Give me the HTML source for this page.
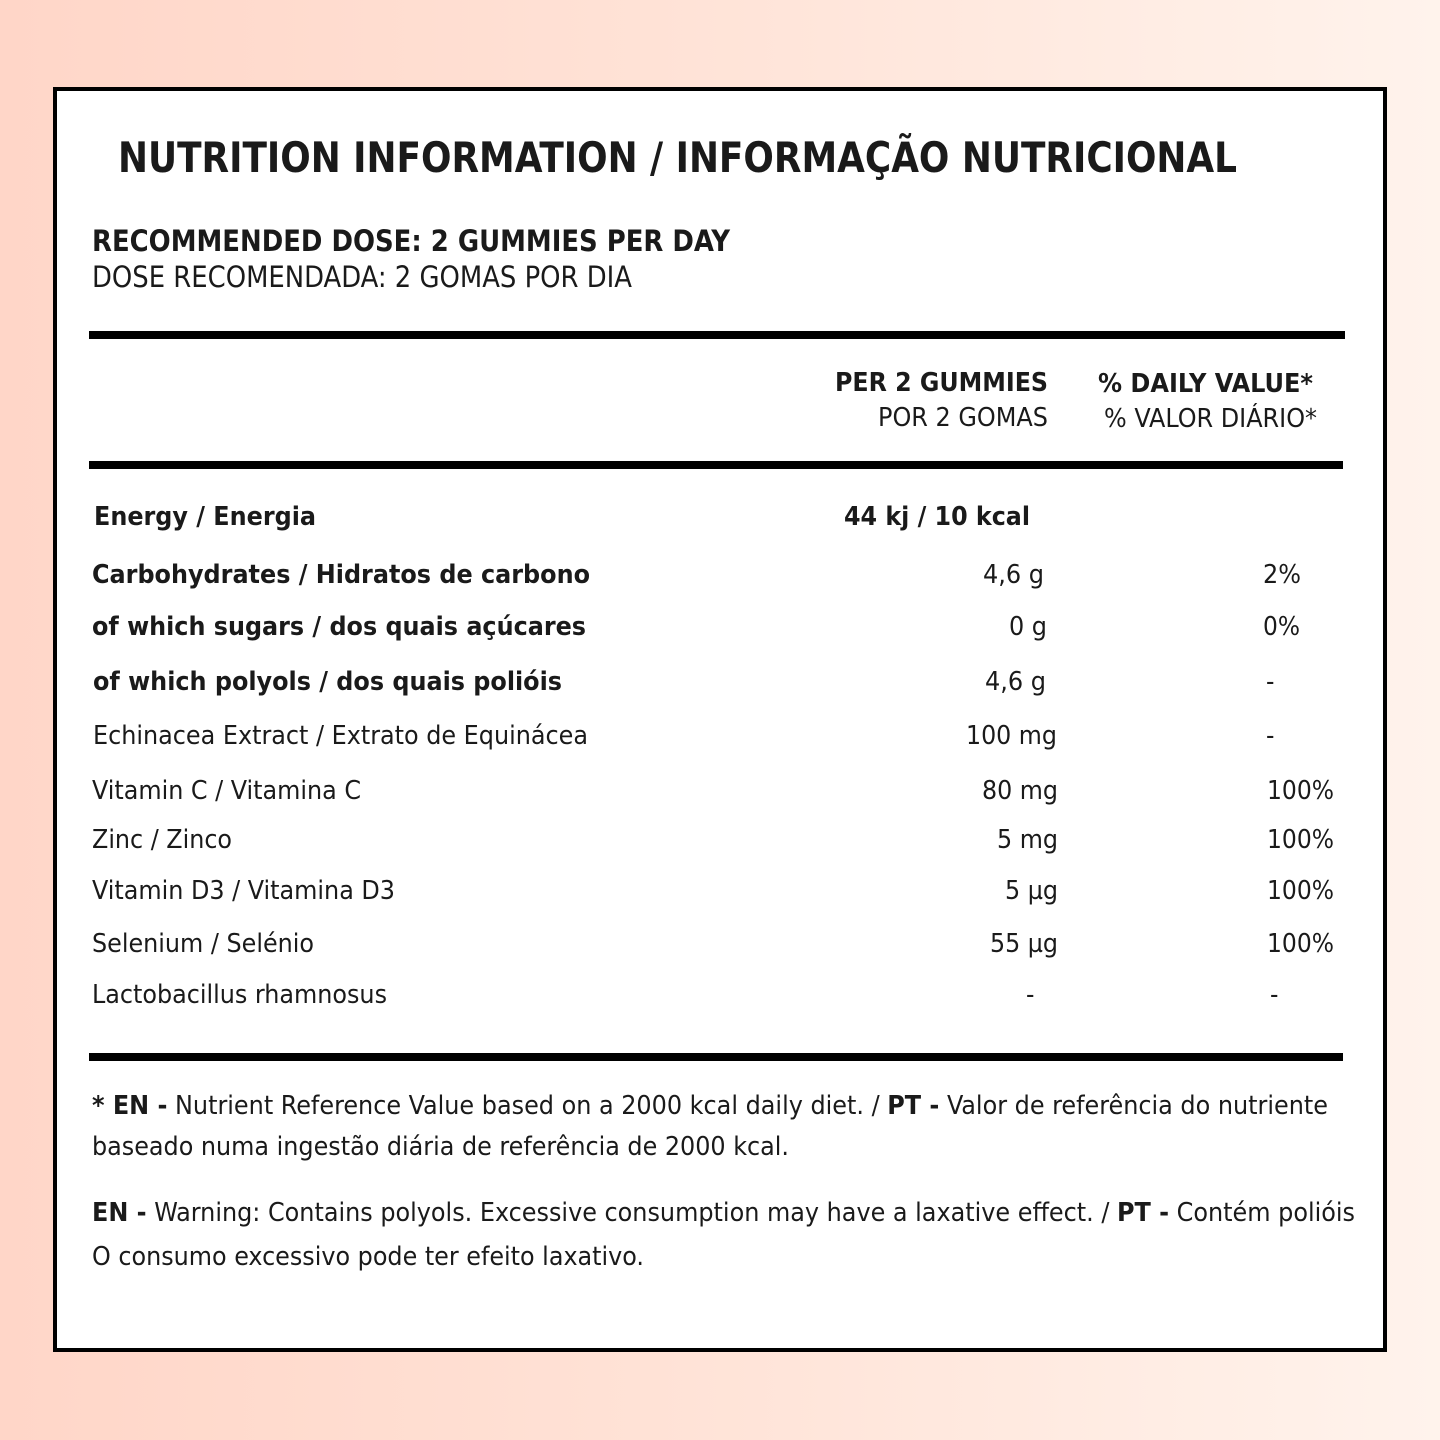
<!DOCTYPE html>
<html><head><meta charset="utf-8"><style>
html,body{margin:0;padding:0;width:1440px;height:1440px;overflow:hidden}
body{background:linear-gradient(90deg,#ffd6c8 0%,#ffe2d6 45%,#fff3ec 100%)}
svg{position:absolute;left:0;top:0}
text{font-family:"DejaVu Sans Condensed","DejaVu Sans","Liberation Sans",sans-serif;fill:#1a1a1a;font-size:26px}
.b{font-weight:bold}
</style></head><body>
<svg width="1440" height="1440" viewBox="0 0 1440 1440">
<rect x="55" y="89" width="1330" height="1261" fill="#fff" stroke="#000" stroke-width="4"/>
<text class="b" x="118" y="172" style="font-size:42px" textLength="1119" lengthAdjust="spacingAndGlyphs">NUTRITION INFORMATION / INFORMAÇÃO NUTRICIONAL</text>
<text class="b" x="92" y="251" style="font-size:29px" textLength="638" lengthAdjust="spacingAndGlyphs">RECOMMENDED DOSE: 2 GUMMIES PER DAY</text>
<text x="92" y="287" style="font-size:29px" textLength="540" lengthAdjust="spacingAndGlyphs">DOSE RECOMENDADA: 2 GOMAS POR DIA</text>
<rect x="89" y="331" width="1256" height="8" fill="#000"/>
<text class="b" x="835" y="391" textLength="213" lengthAdjust="spacingAndGlyphs">PER 2 GUMMIES</text>
<text x="878" y="426" textLength="170" lengthAdjust="spacingAndGlyphs">POR 2 GOMAS</text>
<text class="b" x="1098" y="392" textLength="215" lengthAdjust="spacingAndGlyphs">% DAILY VALUE*</text>
<text x="1104" y="427" textLength="213" lengthAdjust="spacingAndGlyphs">% VALOR DIÁRIO*</text>
<rect x="89" y="461" width="1254" height="8" fill="#000"/>

<text class="b" x="94" y="525" textLength="222" lengthAdjust="spacingAndGlyphs">Energy / Energia</text>
<text class="b" x="844" y="525" textLength="186" lengthAdjust="spacingAndGlyphs">44 kj / 10 kcal</text>

<text class="b" x="92" y="583" textLength="498" lengthAdjust="spacingAndGlyphs">Carbohydrates / Hidratos de carbono</text>
<text x="983" y="583" textLength="61" lengthAdjust="spacingAndGlyphs">4,6 g</text>
<text x="1263" y="583" textLength="38" lengthAdjust="spacingAndGlyphs">2%</text>

<text class="b" x="92" y="635" textLength="494" lengthAdjust="spacingAndGlyphs">of which sugars / dos quais açúcares</text>
<text x="1009" y="635" textLength="38" lengthAdjust="spacingAndGlyphs">0 g</text>
<text x="1263" y="635" textLength="37" lengthAdjust="spacingAndGlyphs">0%</text>

<text class="b" x="93" y="690" textLength="469" lengthAdjust="spacingAndGlyphs">of which polyols / dos quais polióis</text>
<text x="985" y="690" textLength="61" lengthAdjust="spacingAndGlyphs">4,6 g</text>
<text x="1266" y="690">-</text>

<text x="93" y="744" textLength="495" lengthAdjust="spacingAndGlyphs">Echinacea Extract / Extrato de Equinácea</text>
<text x="966" y="744" textLength="91" lengthAdjust="spacingAndGlyphs">100 mg</text>
<text x="1266" y="744">-</text>

<text x="92" y="799" textLength="269" lengthAdjust="spacingAndGlyphs">Vitamin C / Vitamina C</text>
<text x="982" y="799" textLength="76" lengthAdjust="spacingAndGlyphs">80 mg</text>
<text x="1267" y="799" textLength="67" lengthAdjust="spacingAndGlyphs">100%</text>

<text x="92" y="848" textLength="140" lengthAdjust="spacingAndGlyphs">Zinc / Zinco</text>
<text x="997" y="848" textLength="61" lengthAdjust="spacingAndGlyphs">5 mg</text>
<text x="1267" y="848" textLength="67" lengthAdjust="spacingAndGlyphs">100%</text>

<text x="92" y="899" textLength="303" lengthAdjust="spacingAndGlyphs">Vitamin D3 / Vitamina D3</text>
<text x="1005" y="899" textLength="53" lengthAdjust="spacingAndGlyphs">5 µg</text>
<text x="1267" y="899" textLength="67" lengthAdjust="spacingAndGlyphs">100%</text>

<text x="92" y="952" textLength="222" lengthAdjust="spacingAndGlyphs">Selenium / Selénio</text>
<text x="990" y="952" textLength="68" lengthAdjust="spacingAndGlyphs">55 µg</text>
<text x="1267" y="952" textLength="67" lengthAdjust="spacingAndGlyphs">100%</text>

<text x="92" y="1003" textLength="295" lengthAdjust="spacingAndGlyphs">Lactobacillus rhamnosus</text>
<text x="1026" y="1003">-</text>
<text x="1270" y="1003">-</text>

<rect x="89" y="1053" width="1254" height="8" fill="#000"/>

<text x="92" y="1114" textLength="1236" lengthAdjust="spacingAndGlyphs"><tspan class="b">* EN -</tspan> Nutrient Reference Value based on a 2000 kcal daily diet. / <tspan class="b">PT -</tspan> Valor de referência do nutriente</text>
<text x="92" y="1155" textLength="697" lengthAdjust="spacingAndGlyphs">baseado numa ingestão diária de referência de 2000 kcal.</text>
<text x="92" y="1221" textLength="1263" lengthAdjust="spacingAndGlyphs"><tspan class="b">EN -</tspan> Warning: Contains polyols. Excessive consumption may have a laxative effect. / <tspan class="b">PT -</tspan> Contém polióis</text>
<text x="92" y="1265" textLength="552" lengthAdjust="spacingAndGlyphs">O consumo excessivo pode ter efeito laxativo.</text>
</svg>
</body></html>
